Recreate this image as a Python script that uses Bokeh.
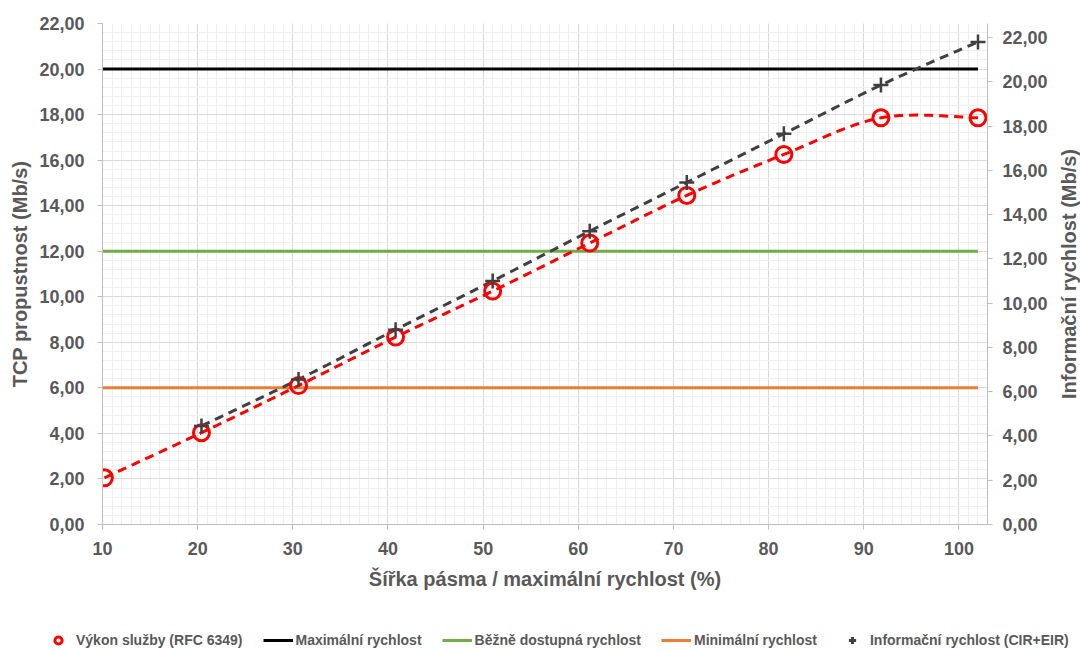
import math
import numpy as np
from bokeh.plotting import figure
from bokeh.layouts import column, row
from bokeh.models import (Range1d, LinearAxis, FixedTicker, CustomJSTickFormatter,
                          Legend, LegendItem)
from bokeh.core.properties import value
from bokeh.embed import file_html
from bokeh.resources import INLINE

# ---- data ----
bandwidth_pct = [10.2, 20.4, 30.6, 40.8, 51.0, 61.2, 71.4, 81.6, 91.8, 102.0]
tcp_throughput = [2.05, 4.03, 6.10, 8.23, 10.25, 12.36, 14.45, 16.25, 17.86, 17.86]
info_x = [20.4, 30.6, 40.8, 51.0, 61.2, 71.4, 81.6, 91.8, 102.0]
info_rate = [4.45, 6.55, 8.8, 11.0, 13.25, 15.45, 17.65, 19.85, 21.8]
ref_x = [10, 102]
max_rate = 20.0
common_rate = 12.0
min_rate = 6.0

labels = ["Výkon služby (RFC 6349)", "Maximální rychlost", "Běžně dostupná rychlost",
          "Minimální rychlost", "Informační rychlost (CIR+EIR)"]
x_title = "Šířka pásma / maximální rychlost (%)"
y_title = "TCP propustnost (Mb/s)"
y2_title = "Informační rychlost (Mb/s)"
x_ticks = [10, 20, 30, 40, 50, 60, 70, 80, 90, 100]
y_ticks = [0, 2, 4, 6, 8, 10, 12, 14, 16, 18, 20, 22]


def smooth(xs, ys, n=30):
    """Excel-like smoothed line (Catmull-Rom Bezier) through the points."""
    xs = np.asarray(xs, float); ys = np.asarray(ys, float)
    px = np.concatenate([[xs[0]], xs, [xs[-1]]])
    py = np.concatenate([[ys[0]], ys, [ys[-1]]])
    ox, oy = [], []
    t = np.linspace(0, 1, n)
    for i in range(1, len(px) - 2):
        p0 = np.array([px[i], py[i]]); p3 = np.array([px[i + 1], py[i + 1]])
        p1 = p0 + (np.array([px[i + 1], py[i + 1]]) - np.array([px[i - 1], py[i - 1]])) / 6
        p2 = p3 - (np.array([px[i + 2], py[i + 2]]) - np.array([px[i], py[i]])) / 6
        b = ((1 - t) ** 3)[:, None] * p0 + (3 * (1 - t) ** 2 * t)[:, None] * p1 \
            + (3 * (1 - t) * t ** 2)[:, None] * p2 + (t ** 3)[:, None] * p3
        ox.extend(b[:, 0]); oy.extend(b[:, 1])
    return ox, oy


TEXT = "#595959"
FONT = "Liberation Sans"

p = figure(width=1050, height=620, output_backend="svg", toolbar_location=None,
           x_range=Range1d(10, 103), y_range=Range1d(0, 22),
           min_border_left=102, min_border_right=61, min_border_top=23, min_border_bottom=96)
p.extra_y_ranges = {"right": Range1d(0, 22.63)}
p.outline_line_color = None
p.background_fill_color = "white"
p.frame_align = False

fmt = CustomJSTickFormatter(code="return tick.toFixed(2).replace('.', ',');")

x_minor = [float(v) for v in range(10, 104)]
y_minor = [round(0.4 * i, 2) for i in range(0, 56)]
xa = p.xaxis[0]
ya = p.yaxis[0]
xa.ticker = FixedTicker(ticks=x_ticks, minor_ticks=x_minor)
ya.ticker = FixedTicker(ticks=y_ticks, minor_ticks=y_minor)
ya.formatter = fmt

yr = LinearAxis(y_range_name="right", ticker=FixedTicker(ticks=y_ticks), formatter=fmt)
p.add_layout(yr, "right")

for ax in [xa, ya, yr]:
    ax.axis_line_color = "#bfbfbf"
    ax.major_tick_line_color = "#bfbfbf"
    ax.major_tick_out = 5
    ax.major_tick_in = 0
    ax.minor_tick_out = 0
    ax.minor_tick_in = 0
    ax.major_label_text_font = FONT
    ax.major_label_text_font_style = "bold"
    ax.major_label_text_font_size = "18px"
    ax.major_label_text_color = TEXT
    ax.axis_label_text_font = FONT
    ax.axis_label_text_font_style = "bold"
    ax.axis_label_text_font_size = "20px"
    ax.axis_label_text_color = TEXT

xa.axis_label = x_title
ya.axis_label = y_title
xa.major_label_standoff = 12
xa.axis_label_standoff = 10
ya.major_label_standoff = 13
ya.axis_label_standoff = 5
yr.major_label_standoff = 10

p.xgrid.grid_line_color = "#d9d9d9"
p.ygrid.grid_line_color = "#d9d9d9"
p.xgrid.minor_grid_line_color = "#efefef"
p.ygrid.minor_grid_line_color = "#efefef"

# reference lines
p.line(ref_x, [max_rate] * 2, line_color="black", line_width=3)
p.line(ref_x, [common_rate] * 2, line_color="#70AD47", line_width=3)
p.line(ref_x, [min_rate] * 2, line_color="#ED7D31", line_width=3)

# smoothed series lines
sx, sy = smooth(bandwidth_pct, tcp_throughput)
p.line(sx, sy, line_color="#FF0000", line_width=3, line_dash="9 6")
ix, iy = smooth(info_x, info_rate)
p.line(ix, iy, line_color="#404040", line_width=3, line_dash="9 6", y_range_name="right")

p.scatter(bandwidth_pct, tcp_throughput, marker="circle", size=16,
          line_color="#FF0000", line_width=3, fill_alpha=0)
p.scatter(info_x, info_rate, marker="cross", size=15, line_color="#404040",
          line_width=2.5, y_range_name="right")

# ---- right axis title strip (reads bottom-to-top, as in the reference) ----
r = figure(width=30, height=620, output_backend="svg", toolbar_location=None,
           x_range=Range1d(0, 30), y_range=Range1d(0, 620),
           min_border=0, x_axis_type=None, y_axis_type=None)
r.outline_line_color = None
r.xgrid.visible = False
r.ygrid.visible = False
r.frame_align = False
r.text(x=[18], y=[620 - 273.5], text=[y2_title], angle=math.pi / 2,
       text_align="center", text_baseline="middle", text_font=value(FONT),
       text_font_style="bold", text_font_size="20px", text_color=TEXT)

# ---- legend strip (separate figure so that it is not clipped) ----
q = figure(width=1080, height=30, output_backend="svg", toolbar_location=None,
           x_range=Range1d(0, 1), y_range=Range1d(0, 1),
           min_border=0, x_axis_type=None, y_axis_type=None)
q.outline_line_color = None
q.xgrid.visible = False
q.ygrid.visible = False
q.frame_align = False
off = [-10, -10]
l_tcp = q.scatter(off, off, marker="circle", size=12, line_color="#FF0000",
                  line_width=3, fill_alpha=0)
l_max = q.line(off, off, line_color="black", line_width=3)
l_com = q.line(off, off, line_color="#70AD47", line_width=3)
l_min = q.line(off, off, line_color="#ED7D31", line_width=3)
l_info = q.scatter(off, off, marker="cross", size=12, line_color="#404040", line_width=3)

legend = Legend(items=[LegendItem(label=labels[0], renderers=[l_tcp]),
                       LegendItem(label=labels[1], renderers=[l_max]),
                       LegendItem(label=labels[2], renderers=[l_com]),
                       LegendItem(label=labels[3], renderers=[l_min]),
                       LegendItem(label=labels[4], renderers=[l_info])],
                orientation="horizontal", location=(43, 1))
legend.label_text_font = FONT
legend.label_text_font_style = "bold"
legend.label_text_font_size = "14px"
legend.label_text_color = TEXT
legend.glyph_width = 30
legend.glyph_height = 18
legend.label_standoff = 3
legend.spacing = 20
legend.padding = 2
legend.margin = 0
legend.border_line_color = None
legend.background_fill_alpha = 0
q.add_layout(legend)

layout = column(row(p, r, spacing=0), q, spacing=0)
open("out.html", "w").write(file_html(layout, INLINE))
